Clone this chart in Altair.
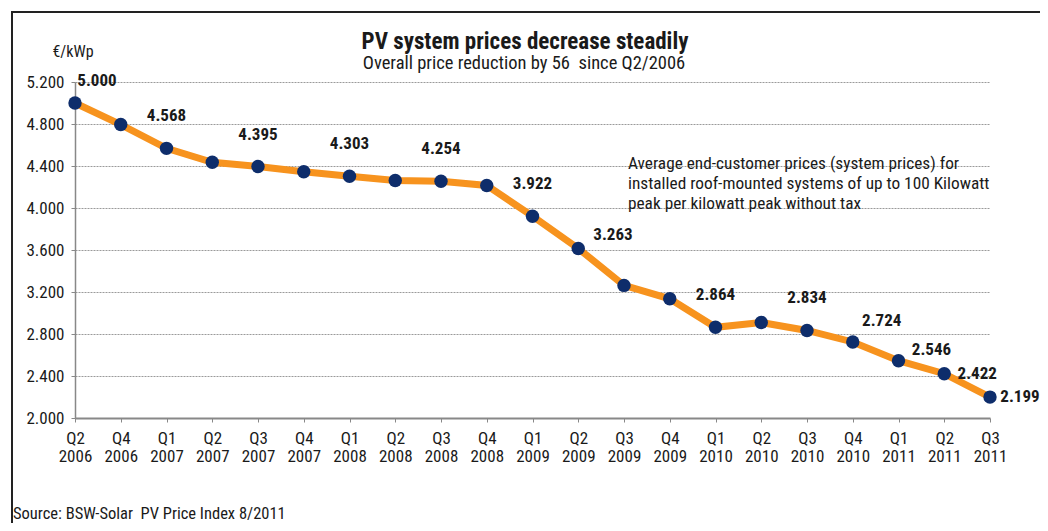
import altair as alt
import pandas as pd

quarters = ["Q2 2006", "Q4 2006", "Q1 2007", "Q2 2007", "Q3 2007", "Q4 2007",
            "Q1 2008", "Q2 2008", "Q3 2008", "Q4 2008", "Q1 2009", "Q2 2009",
            "Q3 2009", "Q4 2009", "Q1 2010", "Q2 2010", "Q3 2010", "Q4 2010",
            "Q1 2011", "Q2 2011", "Q3 2011"]
prices = [5000, 4795, 4568, 4435, 4395, 4345, 4303, 4262, 4254, 4215, 3922, 3615,
          3263, 3135, 2864, 2910, 2834, 2724, 2546, 2422, 2199]
labels = ["5.000", "", "4.568", "", "4.395", "", "4.303", "", "4.254", "", "3.922", "",
          "3.263", "", "2.864", "", "2.834", "2.724", "2.546", "2.422", "2.199"]
y_ticks = [2000, 2400, 2800, 3200, 3600, 4000, 4400, 4800, 5200]

title_text = "PV system prices decrease steadily"
subtitle_text = "Overall price reduction by 56\u00a0 since Q2/2006"
note_lines = ["Average end-customer prices (system prices) for",
              "installed roof-mounted systems of up to 100 Kilowatt",
              "peak per kilowatt peak without tax"]
unit_text = "€/kWp"
source_text = "Source: BSW-Solar\u00a0 PV Price Index 8/2011"

FONT = "Liberation Sans Narrow, Roboto Condensed, DejaVu Sans Condensed, Liberation Sans, sans-serif"
ORANGE = "#F7931E"
NAVY = "#0E2D6B"
TXT = "#1a1a1a"

df = pd.DataFrame({"quarter": quarters, "price": prices, "label": labels})

W, H = 915, 336

x_enc = alt.X("quarter:N", sort=quarters,
              scale=alt.Scale(type="point", padding=0),
              axis=alt.Axis(title=None, labelAngle=0, labelExpr="split(datum.label, ' ')",
                            labelLineHeight=18, labelFontSize=17, labelFont=FONT,
                            labelColor=TXT, labelPadding=8, tickSize=4, tickColor="#888",
                            domainColor="#888", domainWidth=2, grid=False))
y_enc = alt.Y("price:Q", scale=alt.Scale(domain=[2000, 5200], nice=False, zero=False),
              axis=alt.Axis(title=None, values=y_ticks,
                            labelExpr="replace(format(datum.value, ','), ',', '.')",
                            labelFontSize=17, labelFont=FONT, labelColor=TXT,
                            labelPadding=7, tickSize=4, tickColor="#888",
                            domainColor="#888", domainWidth=1.5,
                            grid=True, gridColor="#9a9a9a", gridDash=[2, 1], gridWidth=1))

base = alt.Chart(df)

line = base.mark_line(color=ORANGE, strokeWidth=7).encode(x=x_enc, y=y_enc)
points = base.mark_circle(color=NAVY, opacity=1, size=180).encode(
    x=alt.X("quarter:N", sort=quarters), y="price:Q")

# label placement groups: (dx, dy) -> quarters
label_groups = [
    ((0, -32), ["Q1 2007", "Q3 2007", "Q1 2008", "Q3 2008", "Q1 2009", "Q1 2010", "Q3 2010"]),
    ((22, -22), ["Q2 2006"]),
    ((-11, -50), ["Q3 2009"]),
    ((29, -21), ["Q4 2010"]),
    ((33, -11), ["Q1 2011"]),
    ((33, 0), ["Q2 2011"]),
    ((30, 0), ["Q3 2011"]),
]
label_layers = []
for (dx, dy), qs in label_groups:
    label_layers.append(
        base.transform_filter(alt.FieldOneOfPredicate(field="quarter", oneOf=qs))
        .mark_text(font=FONT, fontSize=17, fontWeight="bold", color=TXT,
                   dx=dx, dy=dy, align="center", baseline="middle")
        .encode(x=alt.X("quarter:N", sort=quarters), y="price:Q", text="label:N")
    )

def txt(s, x, y, size, weight="normal", align="left", baseline="alphabetic"):
    return alt.Chart(pd.DataFrame({"t": [s]})).mark_text(
        font=FONT, fontSize=size, fontWeight=weight, color=TXT,
        align=align, baseline=baseline
    ).encode(text="t:N", x=alt.value(x), y=alt.value(y))

title = txt(title_text, 450, -33, 23, "bold", "center")
subtitle = txt(subtitle_text, 449, -13, 18.5, "normal", "center")
unit = txt(unit_text, -2, -30, 16, "normal", "center", "middle")
note = alt.Chart(pd.DataFrame({"t": [note_lines]})).mark_text(
    font=FONT, fontSize=17.3, color=TXT, align="left", baseline="middle", lineHeight=20
).encode(text="t", x=alt.value(553), y=alt.value(82))
source = txt(source_text, -62, 432, 16.5, "normal", "left", "middle")

frame = alt.Chart(pd.DataFrame({"a": [0]})).mark_rect(
    fill=None, stroke="#222", strokeWidth=2
).encode(x=alt.value(-63), x2=alt.value(1100), y=alt.value(-70), y2=alt.value(600))

chart = alt.layer(frame, line, points, *label_layers, title, subtitle, unit, note, source).properties(
    width=W, height=H,
    padding={"left": 67, "top": 74, "right": 50, "bottom": 105},
    autosize=alt.AutoSizeParams(type="none"),
    background="white",
).configure_view(stroke=None)

chart.save("out.html", embed_options={"renderer": "svg", "actions": False})
